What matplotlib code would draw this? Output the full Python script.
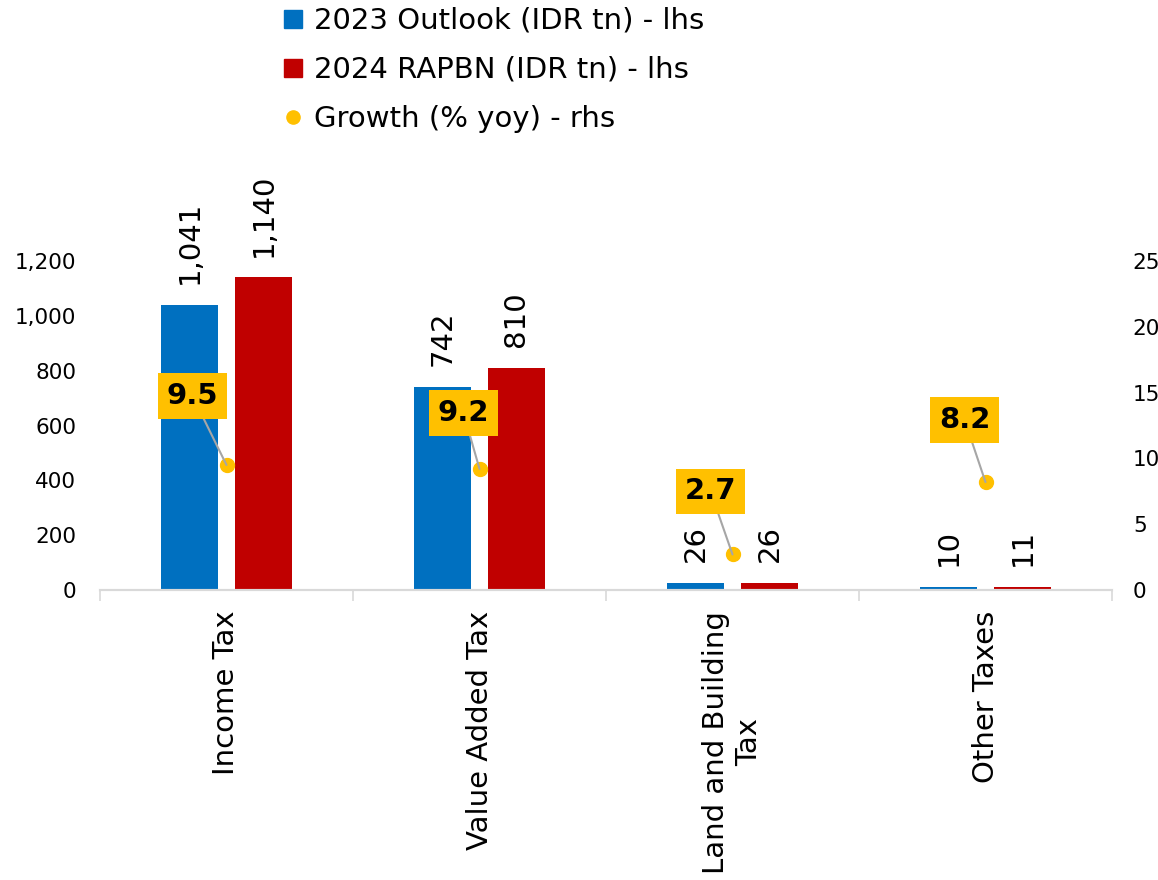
import matplotlib
matplotlib.use("Agg")
import matplotlib.pyplot as plt
from matplotlib.lines import Line2D
import numpy as np

plt.rcParams['font.family'] = ['DejaVu Sans']

categories = ["Income Tax", "Value Added Tax", "Land and Building\nTax", "Other Taxes"]
outlook_2023 = [1041, 742, 26, 10]
rapbn_2024 = [1140, 810, 26, 11]
growth = [9.5, 9.2, 2.7, 8.2]
left_ticks = [0, 200, 400, 600, 800, 1000, 1200]
right_ticks = [0, 5, 10, 15, 20, 25]
series_names = ["2023 Outlook (IDR tn) - lhs", "2024 RAPBN (IDR tn) - lhs", "Growth (% yoy) - rhs"]

BLUE = "#0070C0"
RED = "#C00000"
GOLD = "#FFC000"

fig = plt.figure(figsize=(11.58, 8.8), dpi=100)
ax = fig.add_axes([100/1158, 1-590/880, (1112-100)/1158, (590-261)/880])
ax2 = ax.twinx()

x = np.arange(len(categories))
w = 0.225
off = 0.146
b1 = ax.bar(x - off, outlook_2023, w, color=BLUE, zorder=2)
b2 = ax.bar(x + off, rapbn_2024, w, color=RED, zorder=2)

for bars, vals in ((b1, outlook_2023), (b2, rapbn_2024)):
    for r, v in zip(bars, vals):
        ax.annotate(f"{v:,}", (r.get_x() + r.get_width()/2, v), xytext=(0, 15),
                    textcoords="offset points", rotation=90, ha="center", va="bottom",
                    fontsize=21, color="black", annotation_clip=False)

ax.set_xlim(-0.5, len(categories) - 0.5)
ax.set_ylim(0, 1200)
ax.set_yticks(left_ticks)
ax.set_yticklabels([f"{t:,}" for t in left_ticks])
ax2.set_ylim(0, 25)
ax2.set_yticks(right_ticks)

ax.set_xticks(x)
ax.set_xticklabels(categories, rotation=90, fontsize=21, va="top", ha="center", multialignment="center")
ax.set_xticks(np.arange(-0.5, len(categories)), minor=True)
ax.tick_params(axis="x", which="major", length=0, pad=15)
ax.tick_params(axis="x", which="minor", length=8, color="#D9D9D9", width=1.2)
ax.tick_params(axis="y", length=0, pad=17, labelsize=15.5)
ax2.tick_params(axis="y", length=0, pad=15, labelsize=15.5)

for a in (ax, ax2):
    for s in ("top", "left", "right"):
        a.spines[s].set_visible(False)
    a.spines["bottom"].set_color("#D9D9D9")
    a.spines["bottom"].set_linewidth(1.5)

ax2.plot(x, growth, linestyle="none", marker="o", markersize=10, color=GOLD, zorder=4)
offsets = [(-24.5, 49.7), (-11.5, 40.3), (-15.8, 45.4), (-15, 44.6)]
for xi, g, o in zip(x, growth, offsets):
    ax2.annotate(f"{g:.1f}", (xi, g), xytext=o, textcoords="offset points",
                 ha="center", va="center", fontsize=21, fontweight="bold", color="black",
                 bbox=dict(boxstyle="square,pad=0.3", fc=GOLD, ec="none"),
                 arrowprops=dict(arrowstyle="-", color="#A6A6A6", lw=1.5, shrinkA=0, shrinkB=0),
                 zorder=5)

handles = [
    Line2D([], [], linestyle="none", marker="s", markersize=13.5, color=BLUE),
    Line2D([], [], linestyle="none", marker="s", markersize=13.5, color=RED),
    Line2D([], [], linestyle="none", marker="o", markersize=9.5, color=GOLD),
]
fig.legend(handles, series_names, loc="upper left", bbox_to_anchor=(280/1158, 1 - 4/880),
           frameon=False, fontsize=21, handlelength=0.7, handletextpad=0.35, labelspacing=0.72,
           borderaxespad=0, borderpad=0.1)

fig.savefig("out.png", dpi=100)
